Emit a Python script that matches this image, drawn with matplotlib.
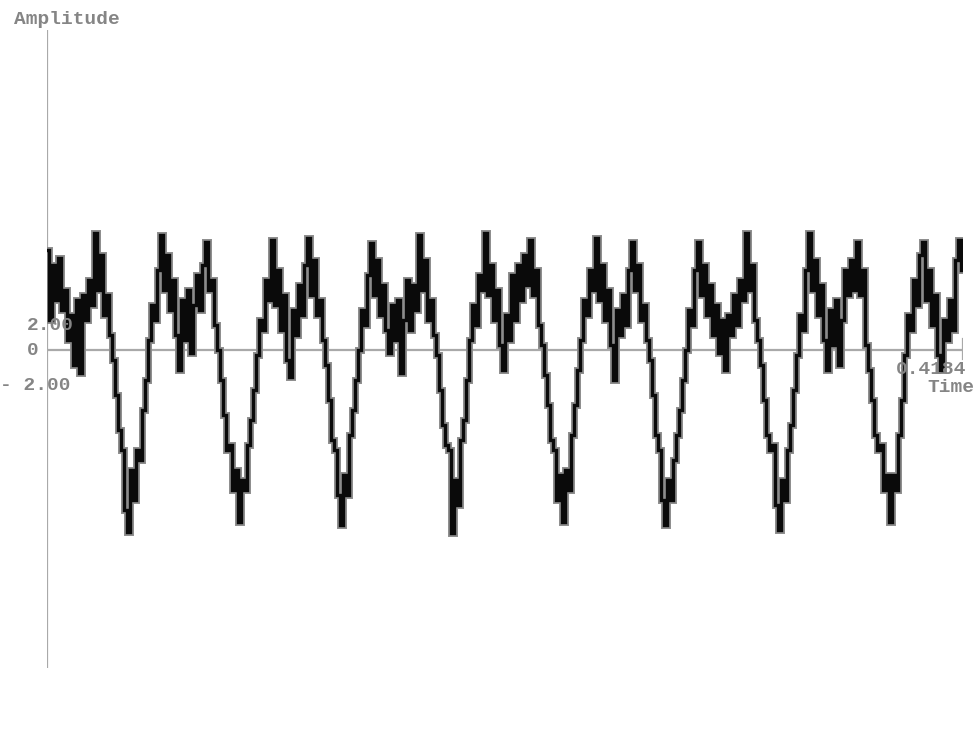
import numpy as np
import matplotlib
matplotlib.use("Agg")
import matplotlib.pyplot as plt

# ---- data (amplitude, in "pixel counts"; 25 counts = 2.00) ----
T_END = 0.4184
AMP_PER_COUNT = 2.00 / 25.0

seg0 = [100, 30, 85, 50, 92, 40, 60, 10, 35, -15, 50, -23, 55, 30, 70, 45, 117, 60,
        95, 35, 55, 15, -10, -45, -80, -100, -160]
seg1 = [-182, -120, -150, -100, -110, -60, -30, 10, 45, 30, 80, 115, 60, 95, 40, 70,
        15, -20, 50, 10, 60, -3, 45, 75, 40, 85, 108, 60, 70, 25, 0, -30, -65, -100,
        -95, -140, -120]
seg2 = [-172, -130, -140, -95, -70, -40, -5, 30, 20, 70, 50, 110, 45, 80, 20, 55,
        -10, -27, 40, 15, 65, 35, 85, 112, 55, 90, 35, 50, 10, -15, -50, -90, -100, -145]
seg3 = [-175, -125, -145, -85, -60, -30, 0, 40, 25, 75, 107, 55, 90, 35, 65, 20, -3,
        45, 10, 50, -23, 30, 70, 20, 65, 40, 115, 60, 90, 30, 50, 15, -5, -40, -75,
        -95, -100]
seg4 = [-183, -130, -155, -90, -70, -30, 10, 45, 25, 75, 60, 117, 55, 85, 30, 60, 5,
        -20, 35, 10, 75, 30, 85, 50, 95, 65, 110, 55, 80, 25, 5, -25, -55, -90, -100,
        -150, -125]
seg5 = [-172, -120, -140, -85, -55, -20, 10, 50, 35, 80, 60, 112, 50, 85, 30, 60, 5,
        -30, 40, 15, 55, 25, 80, 108, 60, 85, 30, 45, 10, -10, -45, -85, -100, -150]
seg6 = [-175, -130, -150, -110, -85, -60, -30, 0, 40, 25, 80, 108, 55, 85, 35, 65,
        15, 45, -3, 30, -20, 35, 15, 55, 25, 70, 50, 117, 60, 85, 30, 10, -15, -50,
        -85, -100, -95, -155]
seg7 = [-180, -130, -150, -100, -75, -40, -5, 35, 20, 80, 117, 60, 90, 35, 65, 10,
        -20, 40, 5, 50, -15, 30, 80, 55, 90, 60, 108, 55, 80, 5, -20, -50, -85, -100,
        -95, -140, -125]
seg8 = [-172, -125, -140, -85, -50, -5, 35, 20, 70, 45, 95, 108, 50, 80, 25, 55, -5,
        -20, 30, 10, 50, 20, 90, 110, 80]

amplitude_counts = np.array(seg0 + seg1 + seg2 + seg3 + seg4 + seg5 + seg6 + seg7 + seg8,
                            dtype=float)
amplitude = amplitude_counts * AMP_PER_COUNT
time = np.linspace(0.0, T_END * (915.0 / 916.0), len(amplitude))

# ---- figure ----
W, H = 980, 736
fig = plt.figure(figsize=(W / 100, H / 100), dpi=100)
fig.patch.set_facecolor("white")

ax_left, ax_right, ax_top, ax_bottom = 47, 963, 30, 668
ax = fig.add_axes([ax_left / W, 1 - ax_bottom / H,
                   (ax_right - ax_left) / W, (ax_bottom - ax_top) / H])
ax.set_xlim(0, T_END)
ax.set_ylim(-318 * AMP_PER_COUNT, 320 * AMP_PER_COUNT)
ax.axis("off")

axis_col = "#a9a9a9"
ax.axvline(0, color=axis_col, lw=1.6, zorder=1)
ax.axhline(0, color=axis_col, lw=1.6, zorder=1)
ax.axvline(T_END, ymin=0.485, ymax=0.515, color=axis_col, lw=1.6, zorder=1)

ax.plot(time, amplitude, color="#8c8c8c", lw=5.0, drawstyle="steps-mid",
        solid_joinstyle="miter", zorder=2)
ax.plot(time, amplitude, color="#0a0a0a", lw=2.4, drawstyle="steps-mid",
        solid_joinstyle="miter", zorder=3)

font = dict(family=["Liberation Mono", "DejaVu Sans Mono"], fontsize=14.0,
            color="#858585", fontweight="bold")

def ftext(x, y, s, ha="left"):
    fig.text(x / W, 1 - y / H, s, ha=ha, va="center", **font)

ftext(14, 20, "Amplitude")
ftext(27, 325, "2.00")
ftext(27, 350, "0")
ftext(0, 385, "- 2.00")
ftext(966, 369, "0.4184", ha="right")
ftext(974, 388, "Time", ha="right")

fig.savefig("out.png", dpi=100, facecolor="white")
